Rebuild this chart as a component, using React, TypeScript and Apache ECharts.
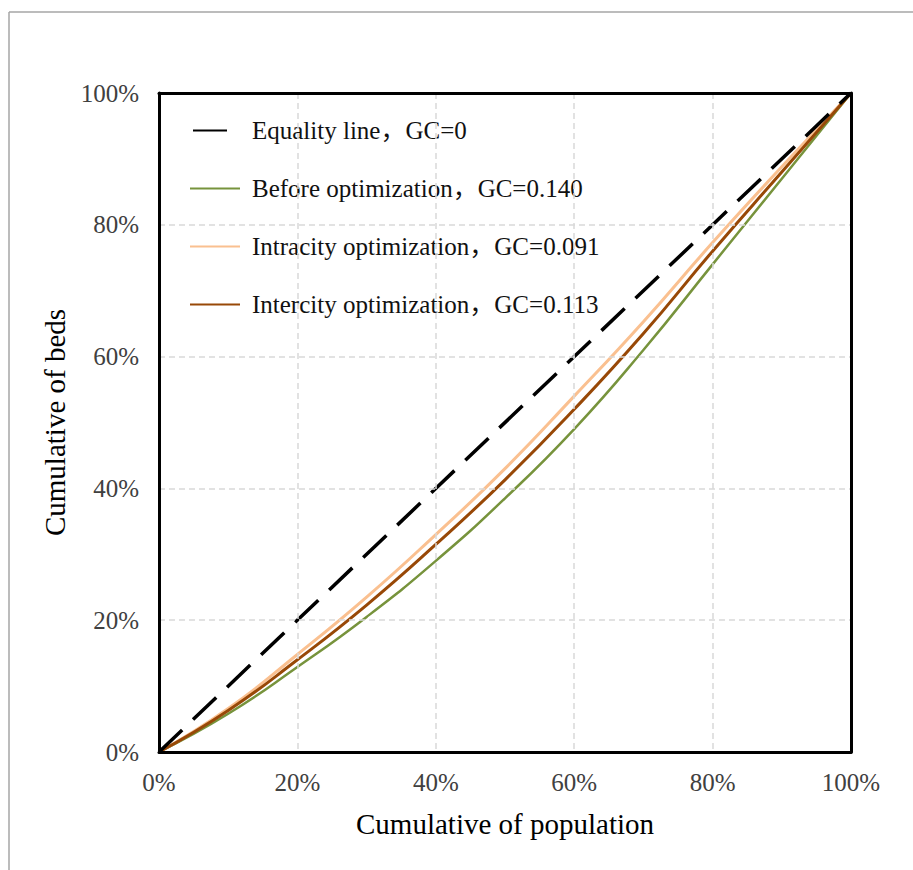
import React, { useEffect, useRef } from "react";
import * as echarts from "echarts";

const xTicks = [0, 10, 20, 30, 40, 50, 60, 70, 80, 90, 100];
const equalityLine = [0, 100];
const beforeOpt = [0, 5.8, 12.9, 20.5, 29, 38.5, 49, 61, 74, 87, 100];
const intracityOpt = [0, 6.6, 14.8, 23.5, 33, 43, 54, 65.3, 77.3, 88.8, 100];
const intercityOpt = [0, 6.3, 14, 22.3, 31.5, 41.3, 52, 63.5, 76, 88, 100];
const seriesNames = [
  "Equality line，GC=0",
  "Before optimization，GC=0.140",
  "Intracity optimization，GC=0.091",
  "Intercity optimization，GC=0.113",
];

const FONT = "'Liberation Serif', 'Times New Roman', 'Noto Sans CJK SC', serif";

const frameAxis = (position: string) => ({
  type: "value",
  min: 0,
  max: 100,
  interval: 20,
  position,
  axisLine: { show: true, onZero: false, lineStyle: { color: "#000", width: 3 } },
  axisTick: { show: false },
  axisLabel: { show: false },
  splitLine: { show: false },
  z: 10,
});

export default function App() {
  const ref = useRef<HTMLDivElement>(null);
  useEffect(() => {
    if (!ref.current) return;
    const chart = echarts.init(ref.current, undefined, { renderer: "svg" });
    const pairs = (vals: number[]) => vals.map((v, i) => [xTicks[i], v]);
    const labelStyle = {
      formatter: "{value}%",
      fontFamily: FONT,
      fontSize: 25,
      color: "#404040",
    };
    const splitStyle = {
      show: true,
      lineStyle: { color: "#D9D9D9", width: 1.5, type: [6, 4] },
    };
    chart.setOption({
      animation: false,
      backgroundColor: "#fff",
      textStyle: { fontFamily: FONT },
      grid: {
        left: 159,
        top: 93,
        width: 692,
        height: 659,
      },
      legend: {
        orient: "vertical",
        left: 184,
        top: 113,
        itemWidth: 50,
        itemHeight: 14,
        itemGap: 33,
        selectedMode: false,
        itemStyle: { opacity: 0 },
        textStyle: {
          fontFamily: FONT,
          fontSize: 25,
          lineHeight: 24,
          color: "#111",
          padding: [0, 0, 0, 7],
        },
        data: [
          { name: seriesNames[0], lineStyle: { type: [34, 40], dashOffset: -3 } },
          { name: seriesNames[1] },
          { name: seriesNames[2] },
          { name: seriesNames[3] },
        ],
      },
      xAxis: [
        {
          type: "value",
          min: 0,
          max: 100,
          interval: 20,
          position: "bottom",
          name: "Cumulative of population",
          nameLocation: "middle",
          nameGap: 57,
          nameTextStyle: { fontFamily: FONT, fontSize: 29, color: "#000" },
          axisLine: { show: true, onZero: false, lineStyle: { color: "#000", width: 3 } },
          axisTick: { show: false },
          axisLabel: { ...labelStyle, margin: 18 },
          splitLine: splitStyle,
          z: 10,
        },
        frameAxis("top"),
      ],
      yAxis: [
        {
          type: "value",
          min: 0,
          max: 100,
          interval: 20,
          position: "left",
          name: "Cumulative of beds",
          nameLocation: "middle",
          nameGap: 84,
          nameTextStyle: { fontFamily: FONT, fontSize: 29, color: "#000" },
          axisLine: { show: true, onZero: false, lineStyle: { color: "#000", width: 3 } },
          axisTick: { show: false },
          axisLabel: { ...labelStyle, margin: 20 },
          splitLine: splitStyle,
          z: 10,
        },
        frameAxis("right"),
      ],
      graphic: [
        {
          type: "line",
          shape: { x1: 9, y1: 12, x2: 913, y2: 12 },
          style: { stroke: "#A6A6A6", lineWidth: 1.5 },
          silent: true,
        },
        {
          type: "line",
          shape: { x1: 9, y1: 12, x2: 9, y2: 870 },
          style: { stroke: "#A6A6A6", lineWidth: 1.5 },
          silent: true,
        },
      ],
      series: [
        {
          name: seriesNames[0],
          type: "line",
          data: [
            [equalityLine[0], equalityLine[0]],
            [equalityLine[1], equalityLine[1]],
          ],
          symbol: "none",
          lineStyle: { color: "#000", width: 3.5, type: [32, 15] },
          itemStyle: { color: "#000" },
          z: 5,
        },
        {
          name: seriesNames[1],
          type: "line",
          data: pairs(beforeOpt),
          smooth: true,
          symbol: "none",
          lineStyle: { color: "#77933C", width: 2.5 },
          itemStyle: { color: "#77933C" },
        },
        {
          name: seriesNames[2],
          type: "line",
          data: pairs(intracityOpt),
          smooth: true,
          symbol: "none",
          lineStyle: { color: "#FAC090", width: 3 },
          itemStyle: { color: "#FAC090" },
        },
        {
          name: seriesNames[3],
          type: "line",
          data: pairs(intercityOpt),
          smooth: true,
          symbol: "none",
          lineStyle: { color: "#984807", width: 3 },
          itemStyle: { color: "#984807" },
        },
      ],
    });
    return () => chart.dispose();
  }, []);
  return (
    <div
      ref={ref}
      style={{ position: "absolute", left: 0, top: 0, width: 913, height: 870 }}
    />
  );
}
